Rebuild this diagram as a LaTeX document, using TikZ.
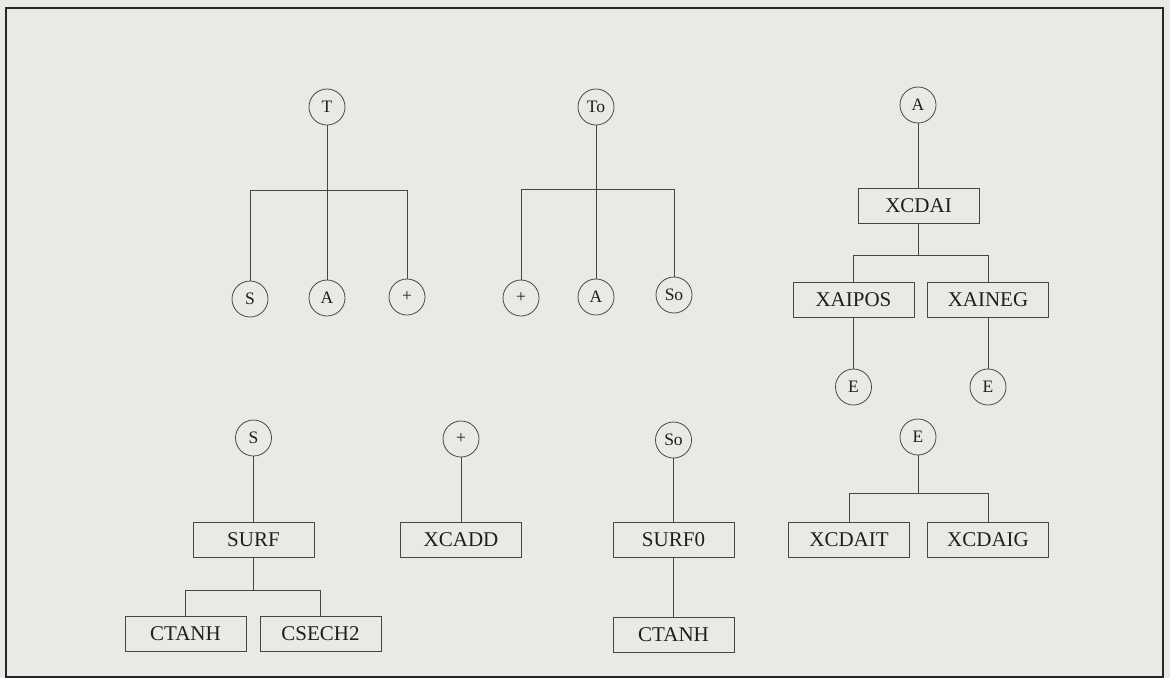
\documentclass[tikz,border=0pt]{standalone}
\usepackage{fontspec}
\setmainfont{Liberation Serif}
\definecolor{bg}{RGB}{234,234,228}
\definecolor{ln}{RGB}{70,70,70}
\definecolor{tx}{RGB}{30,30,30}
\begin{document}
\begin{tikzpicture}[x=1pt,y=-1pt,
  circ/.style={circle,draw=ln,line width=0.8pt,minimum size=36pt,inner sep=0pt,text=tx,font=\fontsize{17.5}{17.5}\selectfont},
  rbox/.style={rectangle,draw=ln,line width=0.8pt,minimum width=121pt,minimum height=35pt,inner sep=0pt,text=tx,font=\fontsize{21}{21}\selectfont},
  conn/.style={draw=ln,line width=0.8pt}]
\fill[bg] (0,0) rectangle (1170,678);
\useasboundingbox (0,0) rectangle (1170,678);
\draw[line width=1.6pt,black!85] (6,8) rectangle (1163,677);
% tree T
\node[circ] (T) at (327,107) {T};
\node[circ] (S1) at (250,299) {S};
\node[circ] (A1) at (327,298) {A};
\node[circ] (P1) at (407,297) {+};
\draw[conn] (T) -- (A1);
\draw[conn] (S1) -- (S1.north |- 0,190) -| (P1);
% tree To
\node[circ] (To) at (596,107) {To};
\node[circ] (P2) at (521,298) {+};
\node[circ] (A2) at (596,297) {A};
\node[circ] (So1) at (674,295) {So};
\draw[conn] (To) -- (A2);
\draw[conn] (P2) -- (P2.north |- 0,189) -| (So1);
% tree A
\node[circ] (A3) at (918,105) {A};
\node[rbox] (XCDAI) at (918.5,205.5) {XCDAI};
\node[rbox] (XAIPOS) at (853.5,300) {XAIPOS};
\node[rbox] (XAINEG) at (988,300) {XAINEG};
\node[circ] (E1) at (853.5,387) {E};
\node[circ] (E2) at (988,387) {E};
\draw[conn] (A3.south -| XCDAI.north) -- (XCDAI.north);
\draw[conn] (XCDAI.south) -- (XCDAI.south |- 0,255);
\draw[conn] (XAIPOS) -- (XAIPOS.north |- 0,255) -| (XAINEG);
\draw[conn] (XAIPOS) -- (E1);
\draw[conn] (XAINEG) -- (E2);
% tree S
\node[circ] (S2) at (253.5,438) {S};
\node[rbox] (SURF) at (253.5,540) {SURF};
\node[rbox] (CT1) at (185.5,634) {CTANH};
\node[rbox] (CS2) at (320.5,634) {CSECH2};
\draw[conn] (S2) -- (SURF);
\draw[conn] (SURF.south) -- (SURF.south |- 0,590);
\draw[conn] (CT1) -- (CT1.north |- 0,590) -| (CS2);
% tree +
\node[circ] (P3) at (461,439) {+};
\node[rbox] (XCADD) at (461,540) {XCADD};
\draw[conn] (P3) -- (XCADD);
% tree So
\node[circ] (So2) at (673.5,440) {So};
\node[rbox] (SURF0) at (673.5,540) {SURF0};
\node[rbox] (CT2) at (673.5,634.5) {CTANH};
\draw[conn] (So2) -- (SURF0);
\draw[conn] (SURF0) -- (CT2);
% tree E
\node[circ] (E3) at (918,437) {E};
\node[rbox] (XCDAIT) at (849,540) {XCDAIT};
\node[rbox] (XCDAIG) at (988,540) {XCDAIG};
\draw[conn] (E3.south) -- (E3.south |- 0,493);
\draw[conn] (XCDAIT) -- (XCDAIT.north |- 0,493) -| (XCDAIG);
\end{tikzpicture}
\end{document}
